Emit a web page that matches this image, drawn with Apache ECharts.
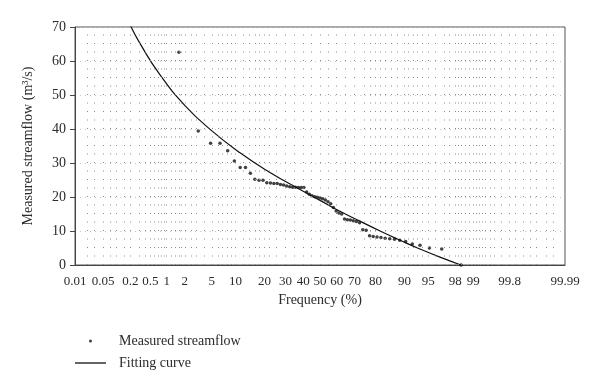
<!DOCTYPE html>
<html><head><meta charset="utf-8">
<script src="https://cdn.jsdelivr.net/npm/echarts@6/dist/echarts.min.js"></script>
<style>html,body{margin:0;padding:0;background:#fff}#c{width:600px;height:390px}</style>
</head><body><div id="c"></div>
<script>
// ---- data ----
const xTickLabels = ['0.01','0.05','0.2','0.5','1','2','5','10','20','30','40','50','60','70','80','90','95','98','99','99.8','99.99'];
const gridPercents = [0.02,0.03,0.05,0.07,0.1,0.15,0.2,0.3,0.4,0.5,0.6,0.7,0.8,0.9,1,1.2,1.4,1.6,1.8,2,2.5,3,4,5,6,7,8,9,10,12,14,16,18,20,22,25,30,35,40,45,50,55,60,65,70,75,78,80,82,84,86,88,90,91,92,93,94,95,96,97,97.5,98,98.2,98.4,98.6,98.8,99,99.1,99.2,99.3,99.4,99.5,99.6,99.7,99.8,99.85,99.9,99.93,99.95,99.97,99.98];
const measuredFreq = [1.61,3.23,4.84,6.45,8.06,9.68,11.29,12.90,14.52,16.13,17.74,19.35,20.97,22.58,24.19,25.81,27.42,29.03,30.65,32.26,33.87,35.48,37.10,38.71,40.32,41.94,43.55,45.16,46.77,48.39,50.00,51.61,53.23,54.84,56.45,58.06,59.68,61.29,62.90,64.52,66.13,67.74,69.35,70.97,72.58,74.19,75.81,77.42,79.03,80.65,82.26,83.87,85.48,87.10,88.71,90.32,91.94,93.55,95.16,96.77,98.39];
const measuredFlow = [62.6,39.4,35.8,35.8,33.6,30.6,28.7,28.7,27.0,25.2,24.9,24.9,24.2,24.1,24.0,24.0,23.7,23.5,23.2,23.0,22.9,22.9,22.8,22.8,22.8,21.5,20.8,20.4,20.1,19.9,19.7,19.5,19.1,18.6,18.0,16.9,15.9,15.3,15.0,13.5,13.3,13.2,13.0,12.8,12.4,10.4,10.2,8.6,8.4,8.2,8.1,7.9,7.7,7.6,7.3,6.9,6.2,5.8,5.0,4.7,0.0];
const curveFreq = [0.093,0.197,0.316,0.759,2.02,4.76,11.24,22.4,38.1,50,61.9,72.8,81.9,88.76,93.54,96.57,98.38];
const curveFlow = [80.3,70.6,65.1,55.9,46.9,39.9,33.0,27.2,22.2,19.0,15.8,12.9,10.0,7.3,4.7,2.3,0.0];

// ---- normal probability scale (inverse normal CDF) ----
function probit(p){
  const a=[-3.969683028665376e+01,2.209460984245205e+02,-2.759285104469687e+02,1.383577518672690e+02,-3.066479806614716e+01,2.506628277459239e+00];
  const b=[-5.447609879822406e+01,1.615858368580409e+02,-1.556989798598866e+02,6.680131188771972e+01,-1.328068155288572e+01];
  const c=[-7.784894002430293e-03,-3.223964580411365e-01,-2.400758277161838e+00,-2.549732539343734e+00,4.374664141464968e+00,2.938163982698783e+00];
  const d=[7.784695709041462e-03,3.224671290700398e-01,2.445134137142996e+00,3.754408661907416e+00];
  const plow=0.02425, phigh=1-plow;
  let q,r;
  if(p<plow){q=Math.sqrt(-2*Math.log(p));return (((((c[0]*q+c[1])*q+c[2])*q+c[3])*q+c[4])*q+c[5])/((((d[0]*q+d[1])*q+d[2])*q+d[3])*q+1);}
  if(p<=phigh){q=p-0.5;r=q*q;return (((((a[0]*r+a[1])*r+a[2])*r+a[3])*r+a[4])*r+a[5])*q/(((((b[0]*r+b[1])*r+b[2])*r+b[3])*r+b[4])*r+1);}
  q=Math.sqrt(-2*Math.log(1-p));return -(((((c[0]*q+c[1])*q+c[2])*q+c[3])*q+c[4])*q+c[5])/((((d[0]*q+d[1])*q+d[2])*q+d[3])*q+1);
}
const toZ = pct => probit(pct/100);
const labelZ = xTickLabels.map(s => toZ(parseFloat(s)));
const FONT = "'Liberation Serif','DejaVu Serif',serif";
const TXT = '#2b2b2b';
const spacer = name => '{s|}' + name;
const richSp = {s:{width:8}};

const chart = echarts.init(document.getElementById('c'), null, {renderer:'canvas'});
chart.setOption({
  animation:false,
  backgroundColor:'#fff',
  grid:{left:75,right:35,top:27,bottom:125,show:true,borderColor:'#555',borderWidth:1,backgroundColor:'transparent'},
  xAxis:{
    type:'value', min:toZ(0.01), max:toZ(99.99),
    axisLine:{show:true,onZero:false,lineStyle:{color:'#444',width:1}},
    axisTick:{show:false},
    axisLabel:{customValues:labelZ, margin:10, fontFamily:FONT, fontSize:13, color:TXT,
      formatter:function(v){let bi=0,bd=1e9;labelZ.forEach((z,i)=>{const dd=Math.abs(z-v);if(dd<bd){bd=dd;bi=i;}});return xTickLabels[bi];}},
    splitLine:{show:false},
    name:'Frequency (%)', nameLocation:'middle', nameGap:19,
    nameTextStyle:{fontFamily:FONT,fontSize:14,color:TXT}
  },
  yAxis:{
    type:'value', min:0, max:70, interval:10,
    axisLine:{show:true,onZero:false,lineStyle:{color:'#444',width:1}},
    axisTick:{show:true,length:5,lineStyle:{color:'#444'}},
    axisLabel:{margin:9,fontFamily:FONT,fontSize:14,color:TXT},
    splitLine:{show:true,lineStyle:{color:'#c4c4c4',width:1,type:[1,4]}},
    name:'Measured streamflow (m\u00b3/s)', nameLocation:'middle', nameGap:40, nameRotate:90,
    nameTextStyle:{fontFamily:FONT,fontSize:14,color:TXT}
  },
  legend:[
    {data:[{name:'Measured streamflow',icon:'path://M0,-7M31,7M14,0a1.5,1.5 0 1,0 3,0a1.5,1.5 0 1,0 -3,0Z'}],
     left:70, top:329, itemWidth:31, itemHeight:14, formatter:spacer,
     textStyle:{fontFamily:FONT,fontSize:14,color:TXT,rich:richSp}},
    {data:[{name:'Fitting curve',icon:'rect'}], left:70, top:351, itemWidth:31, itemHeight:1.3, formatter:spacer,
     textStyle:{fontFamily:FONT,fontSize:14,color:TXT,rich:richSp}}
  ],
  series:[
    {name:'Probability grid', type:'line', data:[], silent:true, legendHoverLink:false,
     markLine:{silent:true, symbol:['none','none'], label:{show:false}, animation:false,
       lineStyle:{color:'#8c8c8c',width:1,type:[1,7.5]},
       emphasis:{disabled:true},
       data:gridPercents.map(p=>({xAxis:toZ(p)}))}},
    {name:'Measured streamflow', type:'scatter', symbol:'circle', symbolSize:3.5,
     itemStyle:{color:'#111'}, data:measuredFreq.map((f,i)=>[toZ(f),measuredFlow[i]])},
    {name:'Fitting curve', type:'line', symbol:'none', smooth:true, clip:true,
     lineStyle:{color:'#111',width:1.2}, itemStyle:{color:'#111'},
     data:curveFreq.map((f,i)=>[toZ(f),curveFlow[i]])}
  ]
});
</script></body></html>
